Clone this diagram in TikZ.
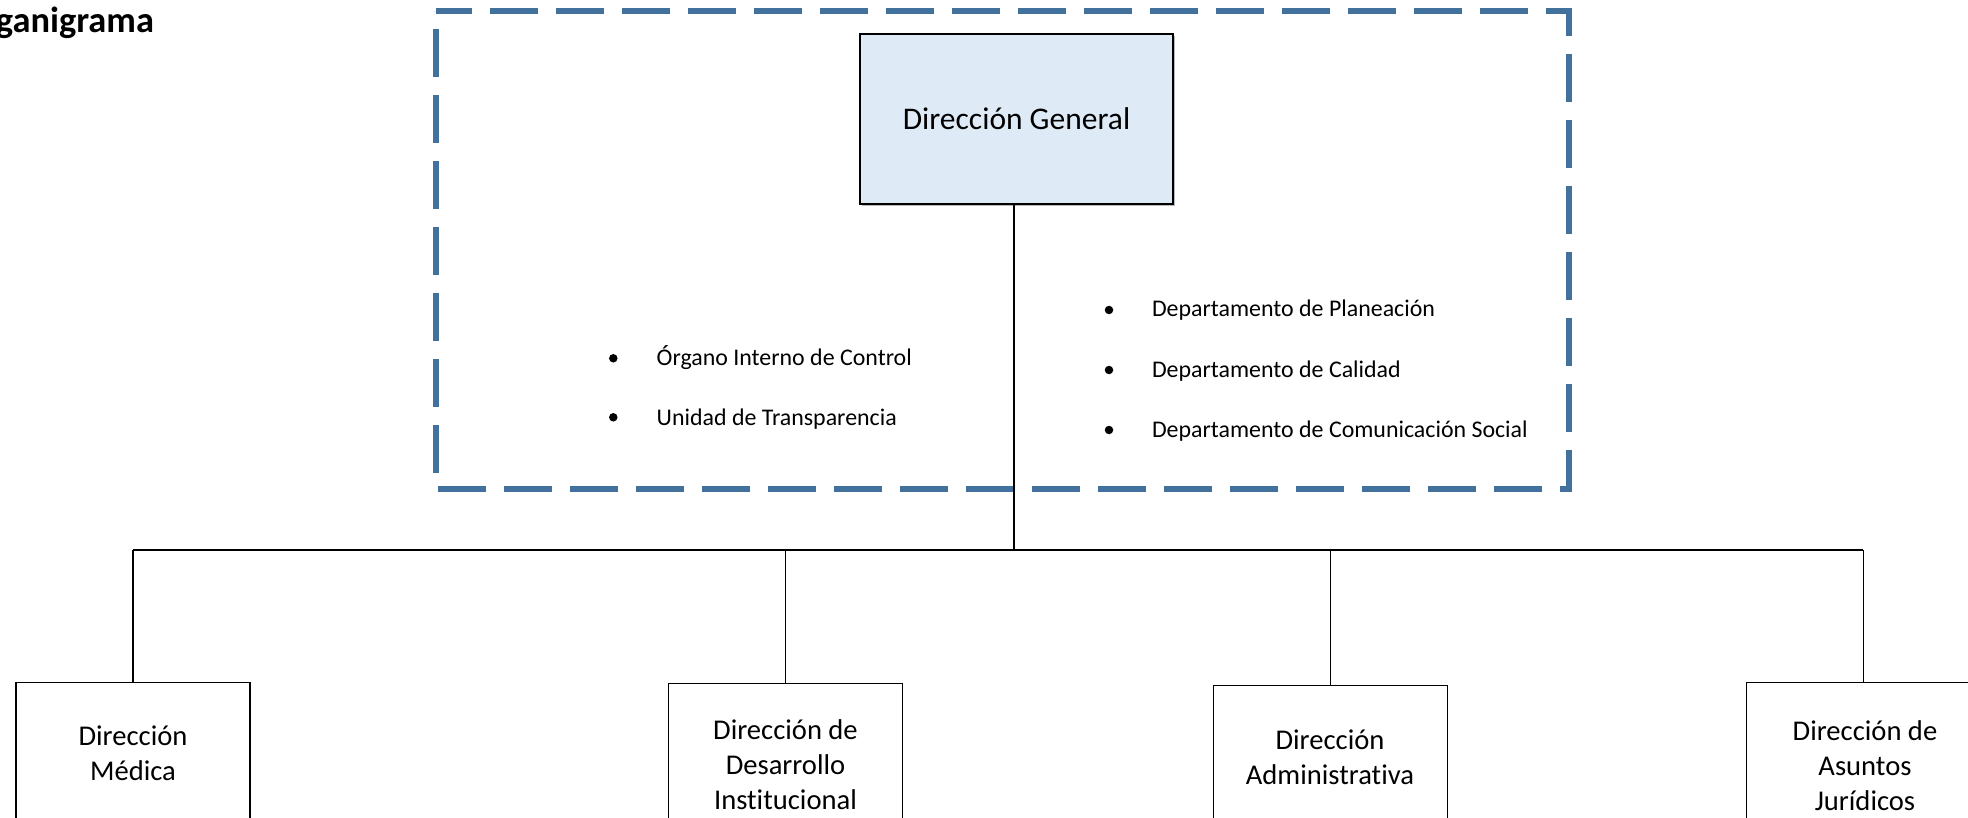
\documentclass[tikz,border=0pt]{standalone}
\usepackage{fontspec}
\setmainfont{Carlito}[Ligatures=NoCommon]
% centred lines whose baseline is the baseline of the first line
\newcommand\lineup[1]{\vtop{\halign{\hfil##\hfil\cr#1\crcr}}}
\definecolor{frameblue}{HTML}{41719C}
\definecolor{headfill}{HTML}{DEEBF7}
\begin{document}
\begin{tikzpicture}[x=1pt,y=-1pt,
  every node/.style={inner sep=0pt, outer sep=0pt},
  unitbox/.style={draw=black, line width=1.2pt, minimum width=234pt, minimum height=170pt, anchor=north},
  unittext/.style={font=\fontsize{28.6}{35}\selectfont, anchor=base},
  itemtext/.style={font=\fontsize{23.9}{29}\selectfont, anchor=base west},
  bulletdot/.style={circle, fill=black, minimum size=8.5pt},
  wire/.style={draw=black, line width=1.1pt}
]
\useasboundingbox (0,0) rectangle (1968,818);
\clip (0,0) rectangle (1968,818);

% title
\node[font=\fontsize{36.4}{44}\selectfont\bfseries, anchor=base east] (title) at (154,33) {Organigrama};

% dashed staff frame around the general direction
\draw[frameblue, line width=5.3pt, dash pattern=on 48pt off 18pt, dash phase=12pt]
  (436,11) -- (1569,11) -- (1569,489) -- (436,489) -- cycle;

% general direction
\fill[gray!55] (862,36) rectangle (1175,206);
\node[draw=black, line width=2.7pt, fill=headfill, minimum width=313pt, minimum height=170pt,
      font=\fontsize{31.5}{38}\selectfont] (dg) at (1016.5,119) {Dirección General};

% staff units, left
\node[bulletdot] (oicB) at (613.3,358.3) {};
\node[itemtext] (oic) at (656.7,365) {Órgano Interno de Control};
\node[bulletdot] (utB) at (613.3,417.3) {};
\node[itemtext] (ut) at (656.7,425) {Unidad de Transparencia};

% staff units, right
\node[bulletdot] (planB) at (1109,310) {};
\node[itemtext] (plan) at (1152,317) {Departamento de Planeación};
\node[bulletdot] (calB) at (1109,370) {};
\node[itemtext] (cal) at (1152,377) {Departamento de Calidad};
\node[bulletdot] (comB) at (1109,430) {};
\node[itemtext] (com) at (1152,437) {Departamento de Comunicación Social};

% directions
\node[unitbox] (medica) at (133,682.7) {};
\node[unitbox] (desarrollo) at (785.7,683.7) {};
\node[unitbox] (admin) at (1330.3,685.7) {};
\node[unitbox] (juridicos) at (1863.3,682.7) {};

\node[unittext] (medicaT) at (133,745) {\lineup{Dirección\cr Médica}};
\node[unittext] (desarrolloT) at (785.5,739) {\lineup{Dirección de\cr Desarrollo\cr Institucional}};
\node[unittext] (adminT) at (1330,749) {\lineup{Dirección\cr Administrativa}};
\node[unittext] (juridicosT) at (1865,740) {\lineup{Dirección de\cr Asuntos\cr Jurídicos}};

% connectors
\coordinate (hub) at (1014,550);
\draw[wire] (dg.south -| hub) -- (hub);
\draw[wire] (medica.north |- hub) -- (juridicos.north |- hub);
\foreach \b in {medica,desarrollo,admin,juridicos}
  \draw[wire] (\b.north |- hub) -- (\b.north);
\end{tikzpicture}
\end{document}
